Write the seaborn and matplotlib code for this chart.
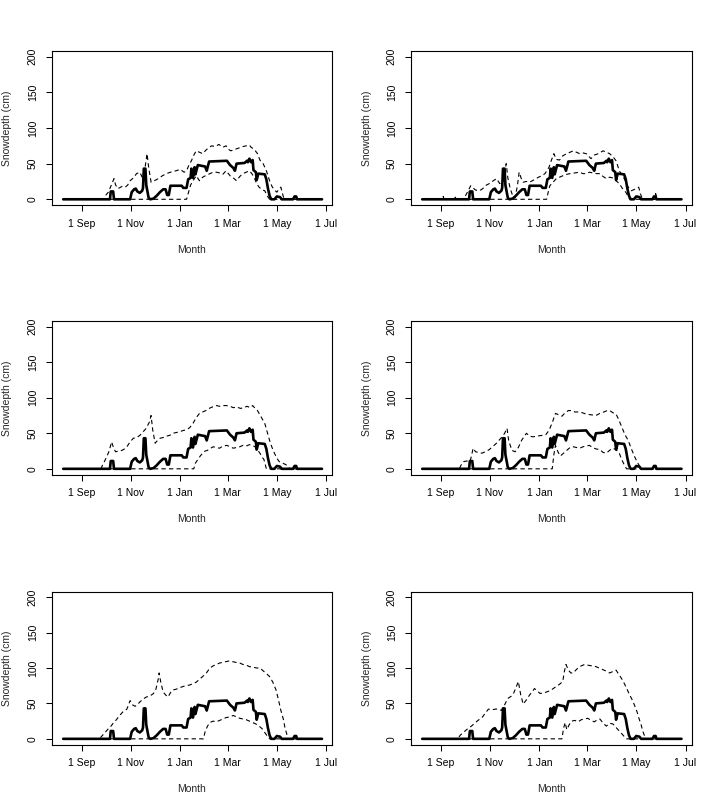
"""
Snow depth through the season: observed (thick) with upper / lower bounds (dashed)
for six scenarios, laid out like the R base-graphics original.
"""
import pandas as pd
import seaborn as sns
import matplotlib.pyplot as plt

# days counted from 1 Sep
month_ticks = [0, 61, 122, 181, 242, 303]
month_labels = ["1 Sep", "1 Nov", "1 Jan", "1 Mar", "1 May", "1 Jul"]
depth_ticks = [0, 50, 100, 150, 200]

# observed snow depth (same in every panel)
observed = [(-23, 0), (35, 0), (36, 11), (39, 11), (40, 0), (60, 0), (62, 10), (65, 14), (67, 15),
            (69, 11), (72, 9), (75, 12), (76, 16), (77, 43), (79, 43), (80, 20), (81, 14), (83, 2),
            (85, 0), (89, 1), (93, 5), (97, 10), (101, 14), (104, 14), (106, 6), (108, 6), (110, 19),
            (124, 19), (126, 16), (130, 16), (132, 28), (135, 30), (136, 43), (138, 30), (140, 45),
            (141, 35), (144, 48), (153, 46), (155, 40), (158, 53), (180, 54), (184, 48), (188, 44),
            (190, 40), (192, 50), (202, 51), (205, 54), (206, 52), (208, 57), (210, 52), (212, 55),
            (213, 41), (216, 38), (217, 27), (219, 36), (227, 35), (229, 28), (231, 15), (233, 5),
            (235, 0), (239, 0), (242, 4), (246, 3), (248, 0), (262, 0), (264, 4), (266, 4),
            (267, 0), (298, 0)]

upper_1 = [(-23, 0), (28, 0), (30, 6), (33, 10), (36, 18), (40, 29), (42, 20), (45, 15), (50, 18),
           (54, 17), (57, 20), (60, 26), (64, 30), (68, 36), (72, 38), (75, 31), (78, 40), (81, 64),
           (83, 45), (86, 24), (90, 26), (95, 29), (100, 33), (105, 36), (110, 38), (117, 40),
           (122, 42), (127, 38), (130, 40), (133, 48), (136, 54), (139, 62), (142, 68), (146, 66),
           (150, 64), (155, 70), (161, 75), (166, 74), (170, 77), (175, 73), (179, 75), (182, 70),
           (185, 68), (190, 70), (195, 72), (200, 74), (204, 75), (208, 76), (210, 73), (214, 70),
           (218, 64), (221, 55), (225, 50), (229, 40), (233, 26), (236, 18), (239, 13), (242, 10),
           (245, 15), (247, 17), (249, 8), (251, 0), (298, 0)]
lower_1 = [(-23, 0), (130, 0), (132, 8), (135, 20), (138, 26), (142, 33), (146, 26), (150, 31),
           (155, 34), (159, 36), (163, 38), (167, 38), (171, 37), (175, 35), (179, 40), (184, 33),
           (188, 30), (192, 26), (196, 32), (200, 36), (204, 38), (208, 40), (211, 36), (214, 30),
           (217, 22), (220, 17), (224, 13), (227, 12), (230, 5), (233, 0), (298, 0)]

upper_2 = [(-23, 0), (2, 0), (3, 4), (4, 0), (17, 0), (18, 3), (19, 0), (29, 0), (31, 6), (34, 12),
           (37, 19), (40, 16), (43, 13), (48, 12), (52, 15), (55, 19), (60, 22), (65, 26), (69, 29),
           (73, 22), (77, 25), (81, 50), (83, 30), (86, 15), (89, 5), (92, 2), (95, 20), (97, 38),
           (100, 28), (102, 24), (106, 25), (110, 24), (115, 27), (121, 31), (125, 33), (129, 36),
           (134, 45), (137, 55), (140, 64), (143, 56), (147, 55), (151, 61), (156, 64), (160, 66),
           (164, 68), (168, 66), (172, 64), (176, 65), (180, 64), (186, 57), (190, 62), (195, 64),
           (201, 68), (205, 66), (209, 64), (213, 60), (217, 54), (221, 40), (225, 33), (229, 25),
           (232, 17), (236, 12), (240, 14), (245, 17), (248, 5), (250, 0), (265, 0), (266, 8),
           (268, 0), (298, 0)]
lower_2 = [(-23, 0), (131, 0), (133, 10), (135, 19), (139, 24), (143, 29), (147, 31), (151, 33),
           (156, 35), (160, 36), (166, 37), (172, 38), (176, 36), (180, 36), (184, 38), (188, 37),
           (193, 36), (197, 36), (201, 32), (205, 29), (209, 31), (213, 30), (217, 26), (221, 22),
           (225, 15), (229, 10), (232, 4), (234, 0), (298, 0)]

upper_3 = [(-23, 0), (24, 0), (26, 6), (28, 10), (31, 17), (34, 25), (37, 38), (40, 28), (42, 24),
           (46, 25), (50, 26), (53, 28), (56, 31), (60, 38), (64, 43), (68, 44), (72, 47), (76, 52),
           (80, 57), (84, 66), (86, 75), (88, 55), (91, 36), (94, 40), (97, 43), (101, 44), (105, 46),
           (109, 47), (113, 50), (117, 51), (121, 52), (126, 54), (130, 55), (134, 58), (138, 64),
           (142, 72), (146, 78), (150, 80), (154, 82), (158, 85), (162, 87), (167, 89), (171, 88),
           (175, 89), (179, 89), (184, 88), (188, 86), (192, 87), (197, 85), (201, 86), (205, 88),
           (209, 86), (212, 89), (215, 85), (218, 82), (221, 76), (224, 70), (227, 64), (230, 52),
           (233, 40), (236, 30), (239, 22), (242, 15), (245, 10), (249, 8), (253, 6), (256, 3),
           (258, 0), (298, 0)]
lower_3 = [(-23, 0), (139, 0), (141, 8), (144, 13), (147, 18), (150, 22), (153, 25), (156, 26),
           (160, 29), (163, 31), (167, 30), (171, 29), (175, 32), (180, 33), (184, 31), (188, 29),
           (192, 30), (196, 31), (200, 33), (204, 32), (208, 34), (212, 33), (216, 30), (219, 25),
           (221, 22), (224, 16), (226, 13), (229, 0), (298, 0)]

upper_4 = [(-23, 0), (23, 0), (25, 5), (28, 10), (32, 11), (36, 10), (38, 18), (40, 29), (43, 24),
           (47, 23), (51, 22), (55, 24), (60, 27), (64, 31), (68, 35), (72, 40), (76, 45), (79, 50),
           (82, 57), (84, 40), (88, 26), (92, 24), (96, 30), (100, 40), (103, 45), (106, 50),
           (110, 46), (114, 45), (119, 46), (125, 47), (130, 48), (134, 54), (138, 65), (142, 78),
           (146, 76), (150, 74), (154, 79), (158, 82), (162, 82), (166, 80), (170, 80), (175, 79),
           (180, 77), (186, 76), (192, 75), (197, 78), (202, 80), (206, 82), (209, 82), (213, 79),
           (217, 77), (220, 70), (224, 59), (228, 48), (232, 40), (236, 28), (240, 17), (243, 10),
           (245, 6), (248, 0), (298, 0)]
lower_4 = [(-23, 0), (138, 0), (140, 20), (142, 33), (145, 24), (148, 18), (152, 22), (156, 26),
           (160, 30), (164, 31), (168, 30), (172, 29), (176, 31), (180, 32), (184, 33), (188, 30),
           (192, 28), (197, 27), (201, 23), (205, 22), (209, 26), (213, 29), (217, 27), (221, 22),
           (224, 13), (227, 6), (230, 0), (298, 0)]

upper_5 = [(-23, 0), (22, 0), (25, 4), (29, 9), (32, 13), (35, 16), (39, 22), (43, 27), (47, 33),
           (51, 38), (56, 42), (60, 54), (63, 48), (66, 46), (68, 47), (72, 52), (76, 56), (80, 59),
           (84, 60), (89, 64), (92, 70), (95, 85), (96, 93), (98, 80), (101, 66), (104, 62),
           (107, 59), (110, 65), (113, 69), (117, 70), (121, 72), (126, 74), (130, 75), (134, 76),
           (138, 78), (142, 80), (146, 84), (150, 88), (154, 92), (159, 100), (163, 103), (167, 105),
           (171, 107), (175, 108), (179, 109), (183, 110), (187, 109), (191, 108), (196, 107),
           (200, 105), (204, 104), (208, 102), (213, 101), (217, 100), (221, 100), (225, 96),
           (229, 92), (233, 88), (237, 80), (241, 69), (244, 55), (247, 40), (250, 28), (252, 16),
           (254, 8), (256, 0), (298, 0)]
lower_5 = [(-23, 0), (151, 0), (153, 10), (156, 18), (159, 23), (163, 25), (167, 24), (171, 26),
           (175, 28), (179, 30), (184, 31), (188, 33), (192, 31), (196, 29), (200, 28), (204, 27),
           (208, 25), (212, 23), (216, 21), (220, 18), (224, 14), (227, 9), (230, 4), (233, 0),
           (298, 0)]

upper_6 = [(-23, 0), (21, 0), (24, 5), (28, 9), (32, 13), (38, 18), (42, 22), (46, 26), (51, 30),
           (55, 36), (59, 42), (63, 41), (68, 42), (72, 42), (75, 40), (79, 48), (83, 57), (87, 60),
           (90, 64), (93, 72), (96, 81), (99, 62), (102, 49), (106, 55), (110, 62), (113, 66),
           (116, 71), (119, 68), (123, 64), (128, 65), (133, 67), (138, 70), (143, 74), (147, 77),
           (151, 81), (153, 95), (155, 105), (158, 97), (161, 93), (164, 93), (168, 98), (172, 102),
           (178, 105), (182, 104), (187, 103), (192, 102), (196, 100), (200, 98), (204, 96),
           (209, 93), (213, 95), (217, 97), (221, 90), (225, 83), (229, 74), (233, 64), (237, 55),
           (240, 47), (243, 38), (245, 30), (248, 20), (250, 11), (252, 5), (254, 0), (298, 0)]
lower_6 = [(-23, 0), (150, 0), (152, 15), (154, 23), (156, 13), (159, 20), (162, 25), (166, 26),
           (170, 24), (174, 27), (178, 28), (182, 29), (186, 26), (190, 24), (194, 27), (197, 28),
           (201, 22), (205, 18), (209, 22), (213, 21), (217, 16), (221, 11), (225, 6), (228, 2),
           (230, 0), (298, 0)]

panels = [(upper_1, lower_1), (upper_2, lower_2),
          (upper_3, lower_3), (upper_4, lower_4),
          (upper_5, lower_5), (upper_6, lower_6)]


def to_frame(pairs):
    return pd.DataFrame(pairs, columns=["day", "depth"])


def main():
    sns.set_style("ticks")
    plt.rcParams['font.family'] = ['Liberation Sans', 'DejaVu Sans']
    plt.rcParams['font.size'] = 7.5
    plt.rcParams['text.color'] = 'black'

    W, H = 718, 809
    fig = plt.figure(figsize=(W / 100, H / 100), dpi=100)
    fig.patch.set_facecolor('white')

    # panel boxes in pixels (left, right, top, bottom)
    cols = [(51.5, 332), (410.5, 691.5)]
    rows = [(51, 205), (321, 474.5), (591.5, 744.5)]

    obs = to_frame(observed)
    dash = (0, (3.9, 2.9))

    for i, (upper, lower) in enumerate(panels):
        l, r = cols[i % 2]
        t, b = rows[i // 2]
        ax = fig.add_axes([l / W, 1 - b / H, (r - l) / W, (b - t) / H])

        sns.lineplot(data=to_frame(upper), x="day", y="depth", ax=ax, color="black",
                     lw=0.8, linestyle=dash, estimator=None, sort=False)
        sns.lineplot(data=to_frame(lower), x="day", y="depth", ax=ax, color="black",
                     lw=0.8, linestyle=dash, estimator=None, sort=False)
        sns.lineplot(data=obs, x="day", y="depth", ax=ax, color="black",
                     lw=1.9, estimator=None, sort=False)

        ax.set_xlim(-37.5, 310.4)
        ax.set_ylim(-8, 208)
        ax.set_xticks(month_ticks)
        ax.set_xticklabels(month_labels)
        ax.set_yticks(depth_ticks)
        ax.set_yticklabels([str(v) for v in depth_ticks], rotation=90, va='center')
        ax.tick_params(direction='out', length=4.3, width=0.75, colors='black',
                       labelsize=7.5, pad=5.5)
        for s in ax.spines.values():
            s.set_visible(True)
            s.set_linewidth(0.8)
            s.set_color('black')

        ax.set_xlabel("Month", fontsize=7.5)
        ax.set_ylabel("Snowdepth (cm)", fontsize=7.5)
        # label centres: 45 px below the box, 44 px left of it
        ax.xaxis.set_label_coords(0.5, -45 / (b - t))
        ax.xaxis.label.set_va('center')
        ax.yaxis.set_label_coords(-44 / (r - l), 0.5)
        ax.yaxis.label.set_va('center')

    plt.savefig("out.png", dpi=100, facecolor='white')
    plt.close()


if __name__ == "__main__":
    main()
